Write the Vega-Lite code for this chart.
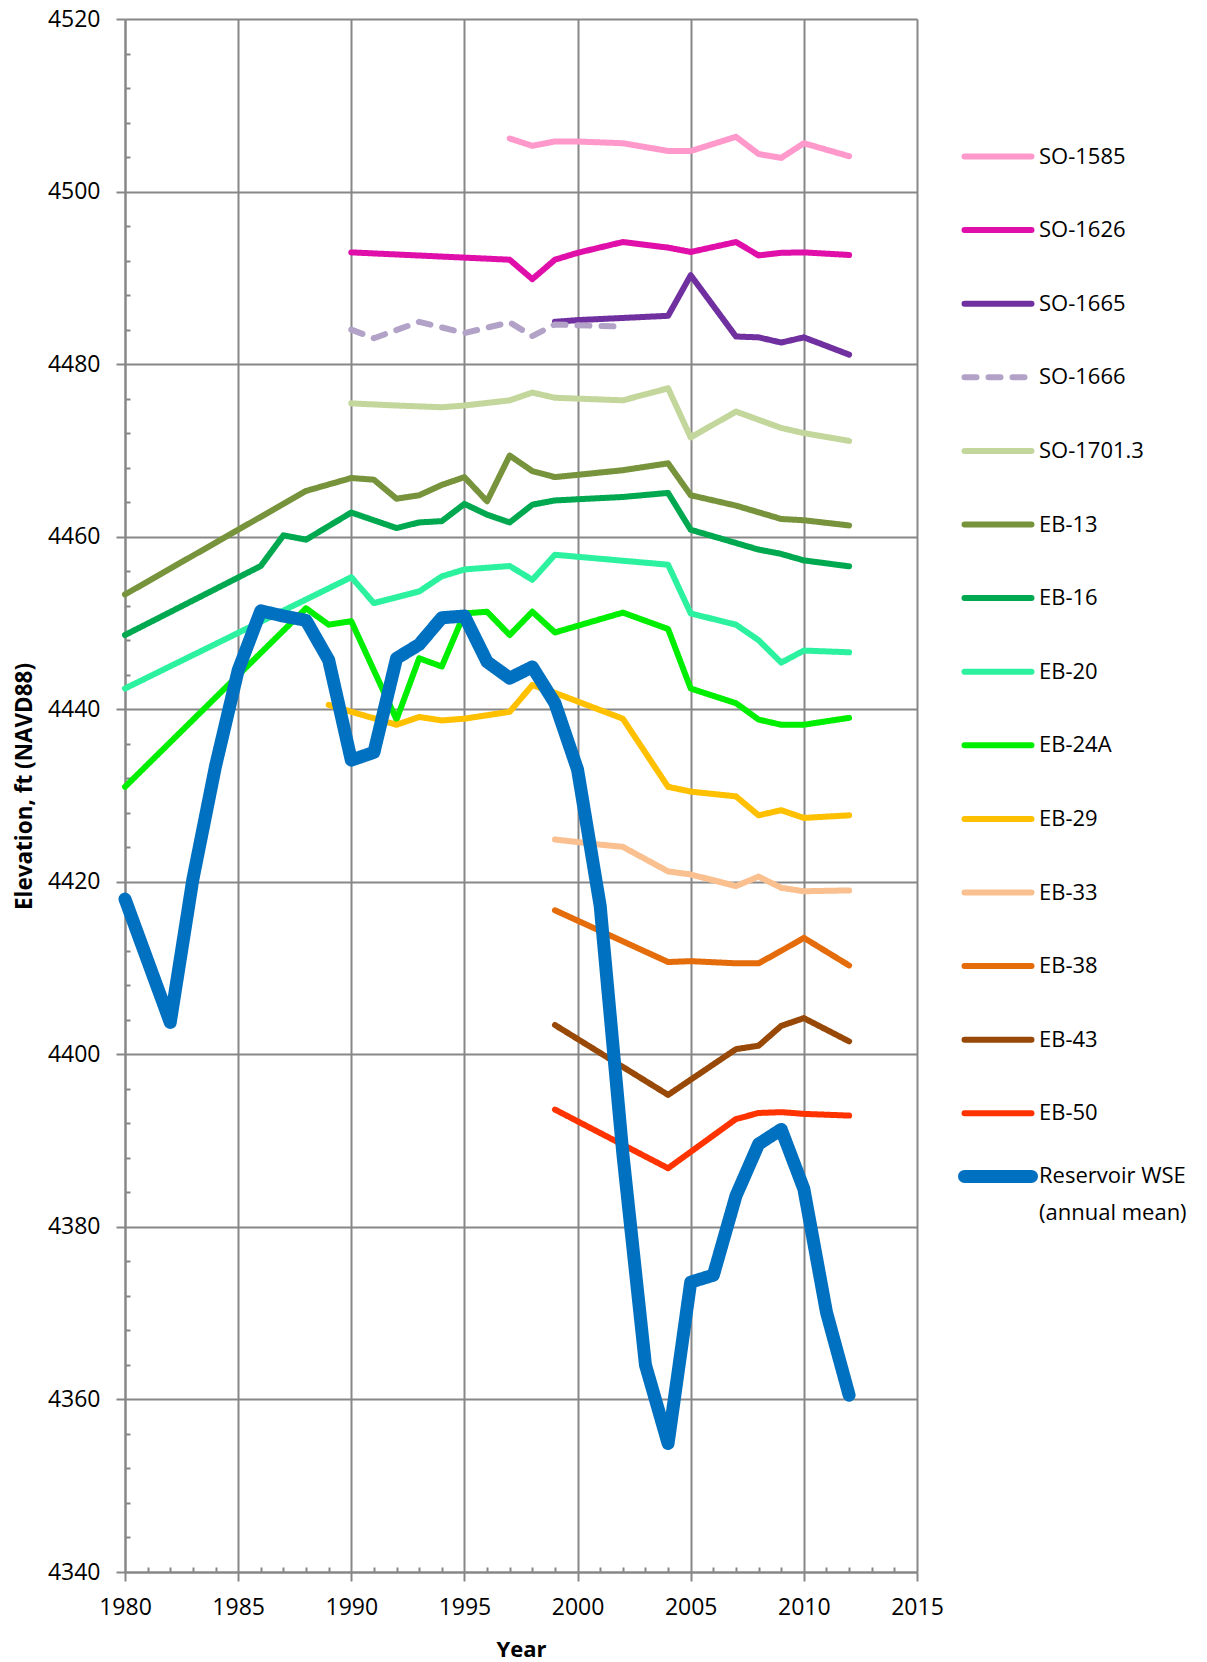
{
  "$schema": "https://vega.github.io/schema/vega-lite/v6.json",
  "width": 792,
  "height": 1553,
  "autosize": {"type": "none"},
  "padding": {"left": 125, "top": 19, "right": 290, "bottom": 90},
  "background": "white",
  "config": {
    "view": {"stroke": null},
    "font": "Open Sans"
  },
  "data": {"values": [
    {"s": "SO-1585", "year": 1997, "v": 4506.15},
    {"s": "SO-1585", "year": 1998, "v": 4505.3},
    {"s": "SO-1585", "year": 1999, "v": 4505.8},
    {"s": "SO-1585", "year": 2000, "v": 4505.8},
    {"s": "SO-1585", "year": 2002, "v": 4505.6},
    {"s": "SO-1585", "year": 2004, "v": 4504.7},
    {"s": "SO-1585", "year": 2005, "v": 4504.7},
    {"s": "SO-1585", "year": 2007, "v": 4506.35},
    {"s": "SO-1585", "year": 2008, "v": 4504.35},
    {"s": "SO-1585", "year": 2009, "v": 4503.9},
    {"s": "SO-1585", "year": 2010, "v": 4505.6},
    {"s": "SO-1585", "year": 2012, "v": 4504.1},

    {"s": "SO-1626", "year": 1990, "v": 4492.95},
    {"s": "SO-1626", "year": 1997, "v": 4492.1},
    {"s": "SO-1626", "year": 1998, "v": 4489.85},
    {"s": "SO-1626", "year": 1999, "v": 4492.1},
    {"s": "SO-1626", "year": 2000, "v": 4492.9},
    {"s": "SO-1626", "year": 2002, "v": 4494.15},
    {"s": "SO-1626", "year": 2004, "v": 4493.5},
    {"s": "SO-1626", "year": 2005, "v": 4493.0},
    {"s": "SO-1626", "year": 2007, "v": 4494.15},
    {"s": "SO-1626", "year": 2008, "v": 4492.6},
    {"s": "SO-1626", "year": 2009, "v": 4492.9},
    {"s": "SO-1626", "year": 2010, "v": 4492.95},
    {"s": "SO-1626", "year": 2012, "v": 4492.65},

    {"s": "SO-1665", "year": 1999, "v": 4484.9},
    {"s": "SO-1665", "year": 2000, "v": 4485.1},
    {"s": "SO-1665", "year": 2004, "v": 4485.6},
    {"s": "SO-1665", "year": 2005, "v": 4490.3},
    {"s": "SO-1665", "year": 2007, "v": 4483.2},
    {"s": "SO-1665", "year": 2008, "v": 4483.1},
    {"s": "SO-1665", "year": 2009, "v": 4482.5},
    {"s": "SO-1665", "year": 2010, "v": 4483.1},
    {"s": "SO-1665", "year": 2012, "v": 4481.1},

    {"s": "SO-1666", "year": 1990, "v": 4484.0},
    {"s": "SO-1666", "year": 1991, "v": 4483.0},
    {"s": "SO-1666", "year": 1993, "v": 4484.9},
    {"s": "SO-1666", "year": 1995, "v": 4483.6},
    {"s": "SO-1666", "year": 1997, "v": 4484.85},
    {"s": "SO-1666", "year": 1998, "v": 4483.25},
    {"s": "SO-1666", "year": 1999, "v": 4484.6},
    {"s": "SO-1666", "year": 2000, "v": 4484.5},
    {"s": "SO-1666", "year": 2002, "v": 4484.35},

    {"s": "SO-1701.3", "year": 1990, "v": 4475.45},
    {"s": "SO-1701.3", "year": 1992, "v": 4475.2},
    {"s": "SO-1701.3", "year": 1994, "v": 4475.0},
    {"s": "SO-1701.3", "year": 1995, "v": 4475.2},
    {"s": "SO-1701.3", "year": 1997, "v": 4475.8},
    {"s": "SO-1701.3", "year": 1998, "v": 4476.7},
    {"s": "SO-1701.3", "year": 1999, "v": 4476.1},
    {"s": "SO-1701.3", "year": 2000, "v": 4476.0},
    {"s": "SO-1701.3", "year": 2002, "v": 4475.8},
    {"s": "SO-1701.3", "year": 2004, "v": 4477.2},
    {"s": "SO-1701.3", "year": 2005, "v": 4471.5},
    {"s": "SO-1701.3", "year": 2007, "v": 4474.5},
    {"s": "SO-1701.3", "year": 2009, "v": 4472.6},
    {"s": "SO-1701.3", "year": 2010, "v": 4472.0},
    {"s": "SO-1701.3", "year": 2012, "v": 4471.1},

    {"s": "EB-13", "year": 1980, "v": 4453.3},
    {"s": "EB-13", "year": 1988, "v": 4465.3},
    {"s": "EB-13", "year": 1990, "v": 4466.8},
    {"s": "EB-13", "year": 1991, "v": 4466.6},
    {"s": "EB-13", "year": 1992, "v": 4464.4},
    {"s": "EB-13", "year": 1993, "v": 4464.8},
    {"s": "EB-13", "year": 1994, "v": 4466.0},
    {"s": "EB-13", "year": 1995, "v": 4466.9},
    {"s": "EB-13", "year": 1996, "v": 4464.1},
    {"s": "EB-13", "year": 1997, "v": 4469.4},
    {"s": "EB-13", "year": 1998, "v": 4467.6},
    {"s": "EB-13", "year": 1999, "v": 4466.9},
    {"s": "EB-13", "year": 2002, "v": 4467.7},
    {"s": "EB-13", "year": 2004, "v": 4468.5},
    {"s": "EB-13", "year": 2005, "v": 4464.8},
    {"s": "EB-13", "year": 2007, "v": 4463.6},
    {"s": "EB-13", "year": 2009, "v": 4462.05},
    {"s": "EB-13", "year": 2010, "v": 4461.9},
    {"s": "EB-13", "year": 2012, "v": 4461.3},

    {"s": "EB-16", "year": 1980, "v": 4448.6},
    {"s": "EB-16", "year": 1986, "v": 4456.6},
    {"s": "EB-16", "year": 1987, "v": 4460.15},
    {"s": "EB-16", "year": 1988, "v": 4459.65},
    {"s": "EB-16", "year": 1990, "v": 4462.8},
    {"s": "EB-16", "year": 1992, "v": 4461.0},
    {"s": "EB-16", "year": 1993, "v": 4461.65},
    {"s": "EB-16", "year": 1994, "v": 4461.8},
    {"s": "EB-16", "year": 1995, "v": 4463.8},
    {"s": "EB-16", "year": 1996, "v": 4462.55},
    {"s": "EB-16", "year": 1997, "v": 4461.65},
    {"s": "EB-16", "year": 1998, "v": 4463.7},
    {"s": "EB-16", "year": 1999, "v": 4464.2},
    {"s": "EB-16", "year": 2002, "v": 4464.6},
    {"s": "EB-16", "year": 2004, "v": 4465.07},
    {"s": "EB-16", "year": 2005, "v": 4460.8},
    {"s": "EB-16", "year": 2008, "v": 4458.5},
    {"s": "EB-16", "year": 2009, "v": 4458.0},
    {"s": "EB-16", "year": 2010, "v": 4457.25},
    {"s": "EB-16", "year": 2012, "v": 4456.56},

    {"s": "EB-20", "year": 1980, "v": 4442.4},
    {"s": "EB-20", "year": 1990, "v": 4455.3},
    {"s": "EB-20", "year": 1991, "v": 4452.3},
    {"s": "EB-20", "year": 1993, "v": 4453.65},
    {"s": "EB-20", "year": 1994, "v": 4455.4},
    {"s": "EB-20", "year": 1995, "v": 4456.2},
    {"s": "EB-20", "year": 1997, "v": 4456.6},
    {"s": "EB-20", "year": 1998, "v": 4455.0},
    {"s": "EB-20", "year": 1999, "v": 4457.9},
    {"s": "EB-20", "year": 2004, "v": 4456.75},
    {"s": "EB-20", "year": 2005, "v": 4451.1},
    {"s": "EB-20", "year": 2007, "v": 4449.8},
    {"s": "EB-20", "year": 2008, "v": 4448.0},
    {"s": "EB-20", "year": 2009, "v": 4445.4},
    {"s": "EB-20", "year": 2010, "v": 4446.8},
    {"s": "EB-20", "year": 2012, "v": 4446.6},

    {"s": "EB-24A", "year": 1980, "v": 4431.0},
    {"s": "EB-24A", "year": 1988, "v": 4451.7},
    {"s": "EB-24A", "year": 1989, "v": 4449.8},
    {"s": "EB-24A", "year": 1990, "v": 4450.2},
    {"s": "EB-24A", "year": 1992, "v": 4438.8},
    {"s": "EB-24A", "year": 1993, "v": 4445.9},
    {"s": "EB-24A", "year": 1994, "v": 4444.95},
    {"s": "EB-24A", "year": 1995, "v": 4451.1},
    {"s": "EB-24A", "year": 1996, "v": 4451.3},
    {"s": "EB-24A", "year": 1997, "v": 4448.6},
    {"s": "EB-24A", "year": 1998, "v": 4451.3},
    {"s": "EB-24A", "year": 1999, "v": 4448.9},
    {"s": "EB-24A", "year": 2002, "v": 4451.2},
    {"s": "EB-24A", "year": 2004, "v": 4449.3},
    {"s": "EB-24A", "year": 2005, "v": 4442.4},
    {"s": "EB-24A", "year": 2007, "v": 4440.7},
    {"s": "EB-24A", "year": 2008, "v": 4438.8},
    {"s": "EB-24A", "year": 2009, "v": 4438.2},
    {"s": "EB-24A", "year": 2010, "v": 4438.2},
    {"s": "EB-24A", "year": 2012, "v": 4439.0},

    {"s": "EB-29", "year": 1989, "v": 4440.5},
    {"s": "EB-29", "year": 1990, "v": 4439.7},
    {"s": "EB-29", "year": 1992, "v": 4438.2},
    {"s": "EB-29", "year": 1993, "v": 4439.1},
    {"s": "EB-29", "year": 1994, "v": 4438.7},
    {"s": "EB-29", "year": 1995, "v": 4438.9},
    {"s": "EB-29", "year": 1997, "v": 4439.7},
    {"s": "EB-29", "year": 1998, "v": 4442.8},
    {"s": "EB-29", "year": 1999, "v": 4441.9},
    {"s": "EB-29", "year": 2002, "v": 4438.9},
    {"s": "EB-29", "year": 2004, "v": 4431.0},
    {"s": "EB-29", "year": 2005, "v": 4430.45},
    {"s": "EB-29", "year": 2007, "v": 4429.9},
    {"s": "EB-29", "year": 2008, "v": 4427.7},
    {"s": "EB-29", "year": 2009, "v": 4428.3},
    {"s": "EB-29", "year": 2010, "v": 4427.4},
    {"s": "EB-29", "year": 2012, "v": 4427.7},

    {"s": "EB-33", "year": 1999, "v": 4424.9},
    {"s": "EB-33", "year": 2000, "v": 4424.6},
    {"s": "EB-33", "year": 2001, "v": 4424.3},
    {"s": "EB-33", "year": 2002, "v": 4424.05},
    {"s": "EB-33", "year": 2004, "v": 4421.2},
    {"s": "EB-33", "year": 2005, "v": 4420.85},
    {"s": "EB-33", "year": 2007, "v": 4419.5},
    {"s": "EB-33", "year": 2008, "v": 4420.6},
    {"s": "EB-33", "year": 2009, "v": 4419.3},
    {"s": "EB-33", "year": 2010, "v": 4418.9},
    {"s": "EB-33", "year": 2012, "v": 4419.0},

    {"s": "EB-38", "year": 1999, "v": 4416.7},
    {"s": "EB-38", "year": 2004, "v": 4410.7},
    {"s": "EB-38", "year": 2005, "v": 4410.8},
    {"s": "EB-38", "year": 2007, "v": 4410.55},
    {"s": "EB-38", "year": 2008, "v": 4410.55},
    {"s": "EB-38", "year": 2009, "v": 4412.0},
    {"s": "EB-38", "year": 2010, "v": 4413.5},
    {"s": "EB-38", "year": 2012, "v": 4410.3},

    {"s": "EB-43", "year": 1999, "v": 4403.4},
    {"s": "EB-43", "year": 2004, "v": 4395.3},
    {"s": "EB-43", "year": 2007, "v": 4400.6},
    {"s": "EB-43", "year": 2008, "v": 4401.0},
    {"s": "EB-43", "year": 2009, "v": 4403.3},
    {"s": "EB-43", "year": 2010, "v": 4404.2},
    {"s": "EB-43", "year": 2012, "v": 4401.5},

    {"s": "EB-50", "year": 1999, "v": 4393.6},
    {"s": "EB-50", "year": 2004, "v": 4386.8},
    {"s": "EB-50", "year": 2007, "v": 4392.5},
    {"s": "EB-50", "year": 2008, "v": 4393.2},
    {"s": "EB-50", "year": 2009, "v": 4393.3},
    {"s": "EB-50", "year": 2010, "v": 4393.1},
    {"s": "EB-50", "year": 2012, "v": 4392.9},

    {"s": "Reservoir WSE (annual mean)", "year": 1980, "v": 4418.0},
    {"s": "Reservoir WSE (annual mean)", "year": 1982, "v": 4403.7},
    {"s": "Reservoir WSE (annual mean)", "year": 1983, "v": 4420.3},
    {"s": "Reservoir WSE (annual mean)", "year": 1984, "v": 4433.4},
    {"s": "Reservoir WSE (annual mean)", "year": 1985, "v": 4444.5},
    {"s": "Reservoir WSE (annual mean)", "year": 1986, "v": 4451.4},
    {"s": "Reservoir WSE (annual mean)", "year": 1987, "v": 4450.8},
    {"s": "Reservoir WSE (annual mean)", "year": 1988, "v": 4450.3},
    {"s": "Reservoir WSE (annual mean)", "year": 1989, "v": 4445.7},
    {"s": "Reservoir WSE (annual mean)", "year": 1990, "v": 4434.1},
    {"s": "Reservoir WSE (annual mean)", "year": 1991, "v": 4435.0},
    {"s": "Reservoir WSE (annual mean)", "year": 1992, "v": 4445.9},
    {"s": "Reservoir WSE (annual mean)", "year": 1993, "v": 4447.5},
    {"s": "Reservoir WSE (annual mean)", "year": 1994, "v": 4450.6},
    {"s": "Reservoir WSE (annual mean)", "year": 1995, "v": 4450.8},
    {"s": "Reservoir WSE (annual mean)", "year": 1996, "v": 4445.5},
    {"s": "Reservoir WSE (annual mean)", "year": 1997, "v": 4443.6},
    {"s": "Reservoir WSE (annual mean)", "year": 1998, "v": 4444.9},
    {"s": "Reservoir WSE (annual mean)", "year": 1999, "v": 4440.7},
    {"s": "Reservoir WSE (annual mean)", "year": 2000, "v": 4433.0},
    {"s": "Reservoir WSE (annual mean)", "year": 2001, "v": 4417.2},
    {"s": "Reservoir WSE (annual mean)", "year": 2002, "v": 4388.5},
    {"s": "Reservoir WSE (annual mean)", "year": 2003, "v": 4364.0},
    {"s": "Reservoir WSE (annual mean)", "year": 2004, "v": 4354.9},
    {"s": "Reservoir WSE (annual mean)", "year": 2005, "v": 4373.6},
    {"s": "Reservoir WSE (annual mean)", "year": 2006, "v": 4374.4},
    {"s": "Reservoir WSE (annual mean)", "year": 2007, "v": 4383.6},
    {"s": "Reservoir WSE (annual mean)", "year": 2008, "v": 4389.6},
    {"s": "Reservoir WSE (annual mean)", "year": 2009, "v": 4391.3},
    {"s": "Reservoir WSE (annual mean)", "year": 2010, "v": 4384.4},
    {"s": "Reservoir WSE (annual mean)", "year": 2011, "v": 4370.1},
    {"s": "Reservoir WSE (annual mean)", "year": 2012, "v": 4360.5}
  ]},
  "resolve": {"axis": {"x": "independent", "y": "independent"}},
  "layer": [
    {
      "mark": {"type": "line", "strokeCap": "round", "strokeJoin": "round"},
      "encoding": {
        "x": {
          "field": "year", "type": "quantitative",
          "scale": {"domain": [1980, 2015], "nice": false, "zero": false},
          "axis": {
            "orient": "bottom",
            "values": [1980, 1985, 1990, 1995, 2000, 2005, 2010, 2015],
            "format": "d",
            "title": "Year",
            "titleFont": "Open Sans", "titleFontSize": 22, "titleFontWeight": "bold", "titleColor": "black",
            "titleBaseline": "alphabetic", "titleY": 84,
            "labelFont": "Open Sans", "labelFontSize": 23, "labelColor": "black", "labelPadding": 15,
            "labelFlush": false, "labelOverlap": false,
            "tickSize": 9, "tickWidth": 2, "tickColor": "#878787",
            "domainColor": "#878787", "domainWidth": 2,
            "grid": true, "gridColor": "#878787", "gridWidth": 2
          }
        },
        "y": {
          "field": "v", "type": "quantitative",
          "scale": {"domain": [4340, 4520], "nice": false, "zero": false},
          "axis": {
            "orient": "left",
            "values": [4340, 4360, 4380, 4400, 4420, 4440, 4460, 4480, 4500, 4520],
            "format": "d",
            "title": "Elevation, ft (NAVD88)",
            "titleFont": "Open Sans", "titleFontSize": 22.5, "titleFontWeight": "bold", "titleColor": "black",
            "titleAngle": -90, "titleAlign": "center", "titleBaseline": "middle",
            "titleX": -101, "titleY": 767,
            "labelFont": "Open Sans", "labelFontSize": 23, "labelColor": "black", "labelPadding": 16,
            "labelFlush": false, "labelOverlap": false,
            "tickSize": 9, "tickWidth": 2, "tickColor": "#878787",
            "domainColor": "#878787", "domainWidth": 2,
            "grid": true, "gridColor": "#878787", "gridWidth": 2
          }
        },
        "color": {
          "field": "s", "type": "nominal",
          "scale": {
            "domain": ["SO-1585", "SO-1626", "SO-1665", "SO-1666", "SO-1701.3", "EB-13", "EB-16", "EB-20", "EB-24A", "EB-29", "EB-33", "EB-38", "EB-43", "EB-50", "Reservoir WSE (annual mean)"],
            "range": ["#FF99CC", "#E00FAA", "#7030A0", "#B3A2C7", "#C3D69B", "#77933C", "#00A84F", "#2CF2A0", "#00EE00", "#FFC000", "#FAC090", "#E46C0A", "#984807", "#FF3300", "#0070C0"]
          },
          "legend": {
            "orient": "none", "legendX": 833, "legendY": 101,
            "title": null, "padding": 0,
            "symbolType": "stroke", "symbolSize": 4489,
            "labelFont": "Open Sans", "labelFontSize": 22, "labelColor": "black",
            "labelOffset": 1, "labelLimit": 300, "rowPadding": 24.6,
            "labelExpr": "datum.label == 'Reservoir WSE (annual mean)' ? ['Reservoir WSE', '(annual mean)'] : datum.label",
            "encode": {
              "symbols": {"update": {
                "strokeCap": {"value": "round"},
                "y": {"signal": "datum.value == 'Reservoir WSE (annual mean)' ? 0.5 * datum.size - 15 : 0.5 * datum.size"}
              }},
              "labels": {"update": {"lineHeight": {"value": 37}, "dy": {"signal": "datum.value == 'Reservoir WSE (annual mean)' ? -15 : 0"}}}
            }
          }
        },
        "strokeDash": {
          "field": "s", "type": "nominal",
          "scale": {
            "domain": ["SO-1585", "SO-1626", "SO-1665", "SO-1666", "SO-1701.3", "EB-13", "EB-16", "EB-20", "EB-24A", "EB-29", "EB-33", "EB-38", "EB-43", "EB-50", "Reservoir WSE (annual mean)"],
            "range": [[1, 0], [1, 0], [1, 0], [12, 12], [1, 0], [1, 0], [1, 0], [1, 0], [1, 0], [1, 0], [1, 0], [1, 0], [1, 0], [1, 0], [1, 0]]
          }
        },
        "strokeWidth": {
          "field": "s", "type": "nominal",
          "scale": {
            "type": "ordinal",
            "domain": ["SO-1585", "SO-1626", "SO-1665", "SO-1666", "SO-1701.3", "EB-13", "EB-16", "EB-20", "EB-24A", "EB-29", "EB-33", "EB-38", "EB-43", "EB-50", "Reservoir WSE (annual mean)"],
            "range": [6, 6, 6, 6, 6, 6, 6, 6, 6, 6, 6, 6, 6, 6, 13]
          }
        }
      }
    },
    {
      "mark": {"type": "point", "opacity": 0},
      "encoding": {
        "x": {
          "field": "year", "type": "quantitative",
          "scale": {"domain": [1980, 2015], "nice": false, "zero": false},
          "axis": {
            "orient": "bottom",
            "values": [1981, 1982, 1983, 1984, 1986, 1987, 1988, 1989, 1991, 1992, 1993, 1994, 1996, 1997, 1998, 1999, 2001, 2002, 2003, 2004, 2006, 2007, 2008, 2009, 2011, 2012, 2013, 2014],
            "labels": false, "grid": false, "domain": false, "title": null,
            "tickSize": -5, "tickWidth": 2, "tickColor": "#878787"
          }
        },
        "y": {
          "field": "v", "type": "quantitative",
          "scale": {"domain": [4340, 4520], "nice": false, "zero": false},
          "axis": {
            "orient": "left",
            "values": [4344, 4348, 4352, 4356, 4364, 4368, 4372, 4376, 4384, 4388, 4392, 4396, 4404, 4408, 4412, 4416, 4424, 4428, 4432, 4436, 4444, 4448, 4452, 4456, 4464, 4468, 4472, 4476, 4484, 4488, 4492, 4496, 4504, 4508, 4512, 4516],
            "labels": false, "grid": false, "domain": false, "title": null,
            "tickSize": -5, "tickWidth": 2, "tickColor": "#878787"
          }
        }
      }
    }
  ]
}
